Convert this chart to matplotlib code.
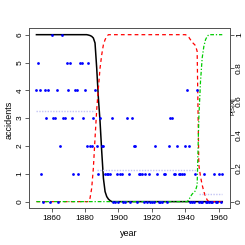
import numpy as np
import matplotlib
matplotlib.use("Agg")
import matplotlib.pyplot as plt

plt.rcParams['font.family'] = ['Liberation Sans', 'DejaVu Sans']

# coal mining disasters per year, 1851-1962
years = np.arange(1851, 1963)
accidents = [4, 5, 4, 1, 0, 4, 3, 4, 0, 6,
             3, 3, 4, 0, 2, 6, 3, 3, 5, 4,
             5, 3, 1, 4, 4, 1, 5, 5, 3, 4,
             2, 5, 2, 2, 3, 4, 2, 1, 3, 2,
             2, 1, 1, 1, 1, 3, 0, 0, 1, 0,
             1, 1, 0, 0, 3, 1, 0, 3, 2, 2,
             0, 1, 1, 1, 0, 1, 0, 1, 0, 0,
             0, 2, 1, 0, 0, 0, 1, 1, 0, 2,
             3, 3, 1, 1, 2, 1, 1, 1, 1, 2,
             4, 2, 0, 0, 0, 1, 4, 0, 0, 0,
             1, 0, 0, 0, 0, 0, 1, 0, 0, 1,
             0, 1]

# regime means (start year, end year, rate)
seg_start = [1851, 1887, 1948]
seg_end = [1886, 1947, 1962]
seg_rate = [3.25, 1.15, 0.26]

# posterior state probabilities
p1_years = [1851, 1881, 1882, 1883, 1884, 1885, 1886, 1887, 1888, 1889, 1890,
            1891, 1892, 1893, 1894, 1895, 1896, 1962]
p1 = [1, 1, 0.998, 0.995, 0.99, 0.98, 0.95, 0.8, 0.62, 0.48, 0.3,
      0.14, 0.06, 0.03, 0.015, 0.006, 0, 0]

p2_years = [1851, 1882, 1883, 1884, 1885, 1886, 1887, 1888, 1889, 1890, 1891,
            1892, 1893, 1894, 1940, 1941, 1942, 1943, 1944, 1945, 1946, 1947,
            1948, 1949, 1950, 1951, 1952, 1953, 1954, 1962]
p2 = [0, 0, 0.02, 0.08, 0.2, 0.38, 0.55, 0.68, 0.8, 0.88, 0.94,
      0.97, 0.99, 1, 1, 0.995, 0.985, 0.97, 0.955, 0.945, 0.935, 0.9,
      0.22, 0.15, 0.1, 0.06, 0.03, 0.01, 0, 0]

p3_years = [1851, 1941, 1942, 1943, 1944, 1945, 1946, 1947, 1948, 1949, 1950,
            1951, 1952, 1953, 1954, 1962]
p3 = [0, 0, 0.01, 0.03, 0.045, 0.055, 0.065, 0.1, 0.5, 0.72, 0.86,
      0.93, 0.97, 0.99, 1, 1]

fig = plt.figure(figsize=(2.45, 2.45), dpi=100)
ax = fig.add_axes([29/245, 1 - 208.3/245, 200.7/245, 180.3/245])
ax2 = ax.twinx()

for s, e, r in zip(seg_start, seg_end, seg_rate):
    ax.plot([s, e], [r, r], color='#c4c4f4', lw=1, linestyle=(0, (1, 1)))

ax2.plot(p1_years, p1, color='black', lw=1.1)
ax2.plot(p2_years, p2, color='red', lw=0.9, linestyle=(0, (3, 2.5)))
ax2.plot(p3_years, p3, color='#00cc00', lw=0.9, linestyle=(0, (3, 1.5, 1, 1.5)))

ax.plot(years, accidents, 'o', color='blue', ms=2.0, mec='none', zorder=5)
ax.set_zorder(ax2.get_zorder() + 1)
ax.patch.set_visible(False)

ax.set_xlim(1846.56, 1966.44)
ax.set_ylim(-0.24, 6.24)
ax2.set_ylim(-0.04, 1.04)

ax.set_xticks([1860, 1880, 1900, 1920, 1940, 1960])
ax.set_yticks(range(7))
ax2.set_yticks([0, 0.2, 0.4, 0.6, 0.8, 1])
ax2.set_yticklabels(['0', '0.2', '0.4', '0.6', '0.8', '1'])

for a in (ax, ax2):
    a.tick_params(length=3, width=0.6, labelsize=6, pad=1.5, color='#444444')
    for sp in a.spines.values():
        sp.set_linewidth(0.7)
        sp.set_color('#555555')
ax.tick_params(axis='y', pad=0.8)
ax2.tick_params(axis='y', pad=1.5)
plt.setp(ax.get_yticklabels(), rotation=90, va='center')
plt.setp(ax2.get_yticklabels(), rotation=90, va='center')

fig.text(129/245, 1 - 233/245, 'year', ha='center', va='center', fontsize=6.5)
fig.text(9/245, 1 - 120/245, 'accidents', ha='center', va='center',
         rotation=90, fontsize=6.5)
fig.text(233/245, 1 - 106/245, 'P[S|X]', ha='center', va='center',
         rotation=90, fontsize=4.5)

fig.savefig('out.png', dpi=100)
